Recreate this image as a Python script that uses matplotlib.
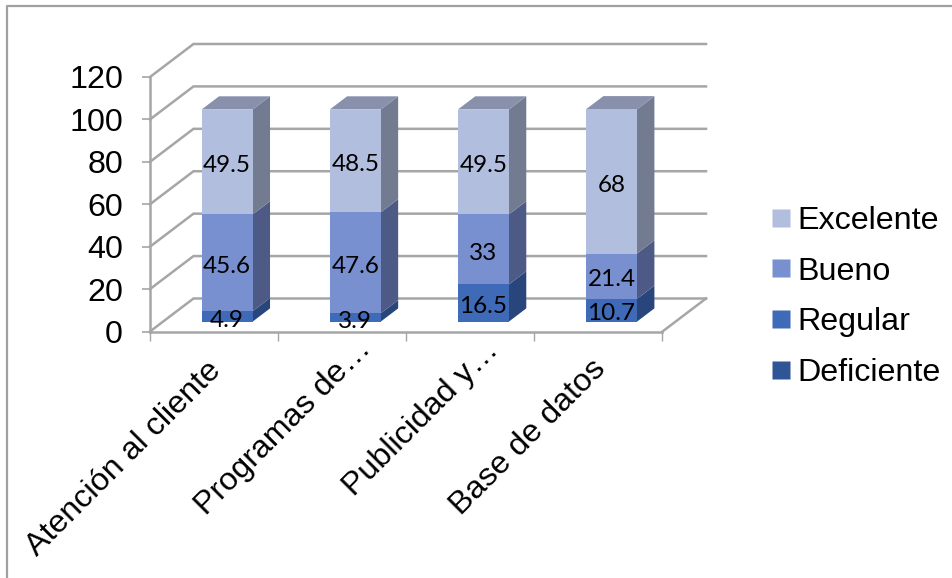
import matplotlib
matplotlib.use("Agg")
import matplotlib.pyplot as plt
from matplotlib.lines import Line2D
from matplotlib.patches import Polygon
from matplotlib.transforms import ScaledTranslation

W, H = 953, 578

categories = ["Atención al cliente", "Programas de…", "Publicidad y…", "Base de datos"]
series_names = ["Deficiente", "Regular", "Bueno", "Excelente"]
deficiente = [0, 0, 0, 0]
regular = [4.9, 3.9, 17.5, 10.7]
bueno = [45.6, 47.6, 33, 21.4]
excelente = [49.5, 48.5, 49.5, 68]
# the picture prints 16.5 on a segment drawn 17.5 tall
regular_labels = ["4.9", "3.9", "16.5", "10.7"]
yticks = [0, 20, 40, 60, 80, 100, 120]

face_colors = ["#2F5597", "#3F6AB8", "#7890CF", "#B2BEDE"]
side_colors = ["#1F3A68", "#28457C", "#4D5A85", "#727B90"]
top_colors = ["#3A5A90", "#3F5A90", "#6070A0", "#8890AC"]
grid_color = "#A6A6A6"
font_size = 23.2

plt.rcParams["font.family"] = ["Liberation Sans", "DejaVu Sans"]

fig = plt.figure(figsize=(W / 100, H / 100), dpi=100)
# front plane of the chart box, in pixels
x0, x1, y0, y1 = 150, 662.5, 331.5, 77
ax = fig.add_axes([x0 / W, 1 - y0 / H, (x1 - x0) / W, (y0 - y1) / H])
ax.set_xlim(0, 4)
ax.set_ylim(0, 120)
ax.patch.set_visible(False)

# depth of the box, in data units
depth_x = 43.5 / 128.1
depth_y = 33 / 2.12


def project(x, y, d):
    return x + d * depth_x, y + d * depth_y


# walls and floor
for v in yticks:
    ax.plot(*zip(project(0, v, 0), project(0, v, 1), project(4, v, 1)),
            color=grid_color, lw=1.8, clip_on=False, zorder=1, solid_joinstyle="miter")
ax.plot(*zip(project(4, 0, 0), project(4, 0, 1)), color=grid_color, lw=1.8, clip_on=False, zorder=1)

# bars
bar_w = 51 / 128.1
d_front, d_back = 0.3, 0.7
bottom = [0, 0, 0, 0]
rows = [deficiente, regular, bueno, excelente]
label_rows = [None, regular_labels, None, None]
for s, (values, name, fc, sc, tc) in enumerate(zip(rows, series_names, face_colors, side_colors, top_colors)):
    for i, v in enumerate(values):
        if v == 0:
            continue
        cx = i + 0.5 + d_front * depth_x
        left = cx - bar_w / 2
        right = cx + bar_w / 2
        b = bottom[i] + d_front * depth_y
        t = b + v
        dx = (d_back - d_front) * depth_x
        dy = (d_back - d_front) * depth_y
        ax.add_patch(Polygon([(right, b), (right + dx, b + dy), (right + dx, t + dy), (right, t)],
                             fc=sc, ec="none", clip_on=False, zorder=3))
        if s == len(rows) - 1:
            ax.add_patch(Polygon([(left, t), (left + dx, t + dy), (right + dx, t + dy), (right, t)],
                                 fc=tc, ec="none", clip_on=False, zorder=3))
        ax.bar(cx, v, bar_w, bottom=b, color=fc, clip_on=False, zorder=4)
        txt = label_rows[s][i] if label_rows[s] else str(v)
        ax.text(cx, b + v / 2 - 1.7, txt, ha="center", va="center", fontsize=17.5,
                family="Lato", color="black", zorder=5)
    bottom = [p + q for p, q in zip(bottom, values)]

for s in ["top", "right"]:
    ax.spines[s].set_visible(False)
for s in ["left", "bottom"]:
    ax.spines[s].set_color(grid_color)
    ax.spines[s].set_linewidth(1.8)

ax.set_yticks(yticks)
ax.tick_params(axis="y", length=5.5, width=1.2, color=grid_color, labelsize=font_size, pad=14)
ax.set_xticks([0, 1, 2, 3, 4])
ax.set_xticklabels([])
ax.tick_params(axis="x", which="major", length=6.5, width=1, color=grid_color)
ax.set_xticks([0.5, 1.5, 2.5, 3.5], minor=True)
ax.set_xticklabels(categories, minor=True, rotation=45, ha="right", va="top",
                   rotation_mode="anchor", fontsize=font_size)
ax.tick_params(axis="x", which="minor", length=0, pad=14)

# nudge of each category label, in pixels
nudges = [(-8, -5), (14, 17), (13, 16), (-8, -3)]
for lab, (nx, ny) in zip(ax.get_xticklabels(minor=True), nudges):
    lab.set_transform(lab.get_transform() + ScaledTranslation(nx / 100, ny / 100, fig.dpi_scale_trans))

handles = [Line2D([], [], ls="none", marker="s", ms=12.5, mec="none", mfc=c) for c in face_colors[::-1]]
fig.legend(handles, series_names[::-1], loc="center left", bbox_to_anchor=(768.5 / W, 1 - 297 / H),
           frameon=False, fontsize=font_size, handlelength=0.75, handletextpad=0.14,
           labelspacing=0.643, borderpad=0, borderaxespad=0)

# chart area border, cut by the image edges
fig.add_artist(Line2D([6.5 / W, 6.5 / W, 1], [0, 1 - 5.5 / H, 1 - 5.5 / H], color="#A0A0A0", lw=1.6))

fig.savefig("out.png", dpi=100)
